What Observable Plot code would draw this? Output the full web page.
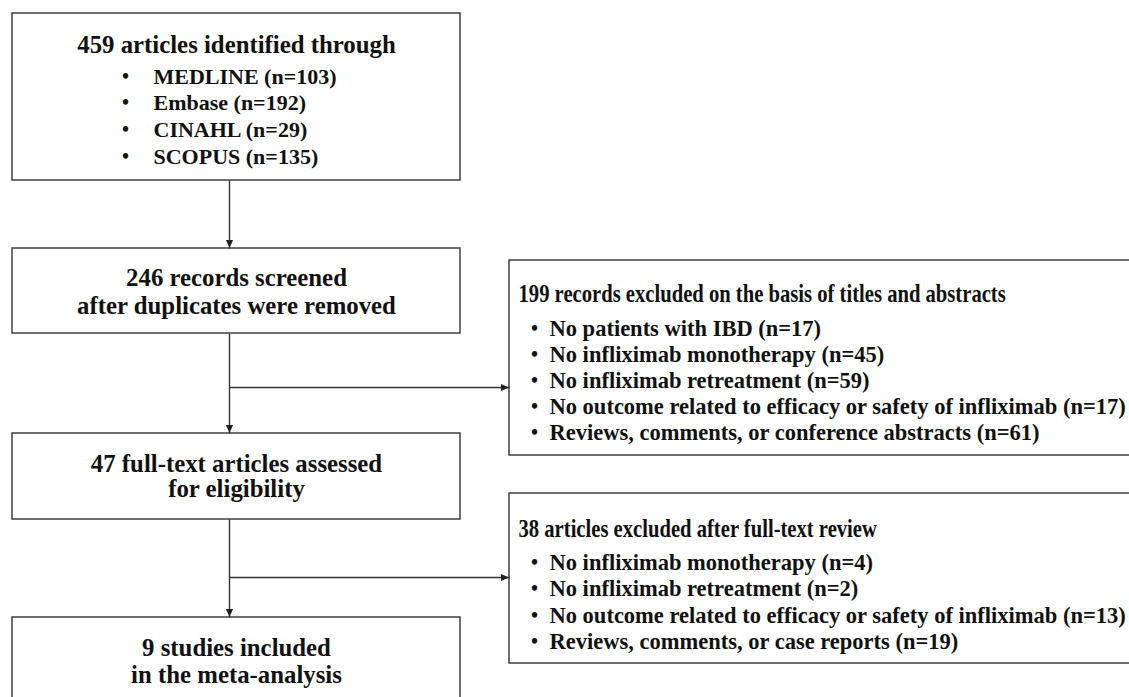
<!DOCTYPE html>
<html><head><meta charset="utf-8">
<script src="https://cdn.jsdelivr.net/npm/d3@7"></script>
<script src="https://cdn.jsdelivr.net/npm/@observablehq/plot@0.6"></script>
<style>html,body{margin:0;padding:0;overflow:hidden;background:#fff}</style>
</head><body>
<div id="chart"></div>
<script>
// ---- data ----
const stageLines = [
  ["459 articles identified through"],
  ["246 records screened", "after duplicates were removed"],
  ["47 full-text articles assessed", "for eligibility"],
  ["9 studies included", "in the meta-analysis"]
];
const sources = ["MEDLINE", "Embase", "CINAHL", "SCOPUS"];
const sourceCounts = [103, 192, 29, 135];
const exclusionTitles = [
  "199 records excluded on the basis of titles and abstracts",
  "38 articles excluded after full-text review"
];
const screenReasons = ["No patients with IBD", "No infliximab monotherapy", "No infliximab retreatment",
  "No outcome related to efficacy or safety of infliximab", "Reviews, comments, or conference abstracts"];
const screenCounts = [17, 45, 59, 17, 61];
const fullTextReasons = ["No infliximab monotherapy", "No infliximab retreatment",
  "No outcome related to efficacy or safety of infliximab", "Reviews, comments, or case reports"];
const fullTextCounts = [4, 2, 13, 19];

// ---- layout ----
const leftBox = {x1: 12, x2: 460};
const rightBox = {x1: 509, x2: 1140};
const leftTops = [13, 248, 433, 617];
const leftBottoms = [180, 333, 519, 712];
const rightTops = [260, 493];
const rightBottoms = [455, 663];
const spineX = 229;
const branchY = [387, 577];
const stageLineY = [[45], [278, 306], [464, 489], [648, 675]];
const sourceY = [76, 102, 129, 156];
const exclTitleY = [294, 529];
const exclItemY = [[328, 354, 380, 406, 432], [562, 588, 615, 641]];

const boxes = [
  ...leftTops.map((t, i) => ({x1: leftBox.x1, x2: leftBox.x2, y1: t, y2: leftBottoms[i]})),
  ...rightTops.map((t, i) => ({x1: rightBox.x1, x2: rightBox.x2, y1: t, y2: rightBottoms[i]}))
];
const links = [];
for (let i = 0; i < 3; i++) links.push({x1: spineX, y1: leftBottoms[i], x2: spineX, y2: leftTops[i + 1]});
branchY.forEach(y => links.push({x1: spineX, y1: y, x2: rightBox.x1, y2: y}));
const heads = [
  ...[1, 2, 3].map(i => ({x: spineX, y: leftTops[i] - 0.5, rot: 90})),
  ...branchY.map(y => ({x: rightBox.x1 - 0.5, y, rot: 0}))
];

const centerText = [];
stageLines.forEach((lines, i) => lines.forEach((t, j) => centerText.push({x: 236, y: stageLineY[i][j], text: t})));
const sourceText = sources.map((s, i) => ({x: 153, y: sourceY[i], text: `${s} (n=${sourceCounts[i]})`}));
const sourceBullets = sources.map((s, i) => ({x: 125, y: sourceY[i], text: "•"}));
const exclTitles = exclusionTitles.map((t, i) => ({x: 518, y: exclTitleY[i], text: t}));
const exclItems = [
  ...screenReasons.map((r, i) => ({x: 549, y: exclItemY[0][i], text: `${r} (n=${screenCounts[i]})`})),
  ...fullTextReasons.map((r, i) => ({x: 549, y: exclItemY[1][i], text: `${r} (n=${fullTextCounts[i]})`}))
];
const exclBullets = exclItems.map(d => ({x: 534, y: d.y, text: "•"}));

const FONT = "'Liberation Serif','Times New Roman',serif";
const INK = "#111";
const LINE = "#333";
const arrowHead = {draw(ctx) { ctx.moveTo(0, 0); ctx.lineTo(-8, -3.6); ctx.lineTo(-8, 3.6); ctx.closePath(); }};

const chart = Plot.plot({
  width: 1129, height: 697, margin: 0,
  x: {domain: [0, 1129], range: [0, 1129], axis: null},
  y: {domain: [0, 697], range: [0, 697], axis: null},
  style: {background: "#fff"},
  marks: [
    Plot.rect(boxes, {x1: "x1", x2: "x2", y1: "y1", y2: "y2", fill: "#fff", stroke: LINE, strokeWidth: 1.4, clip: true}),
    Plot.link(links, {x1: "x1", y1: "y1", x2: "x2", y2: "y2", stroke: LINE, strokeWidth: 1.4}),
    Plot.dot(heads, {x: "x", y: "y", rotate: "rot", symbol: arrowHead, fill: "#222", stroke: "none", r: 4}),
    Plot.text(centerText, {x: "x", y: "y", text: "text", textAnchor: "middle", fontSize: 24.8, fontWeight: "bold", fontFamily: FONT, fill: INK}),
    Plot.text(sourceBullets, {x: "x", y: "y", text: "text", textAnchor: "middle", fontSize: 20, fontWeight: "bold", fontFamily: FONT, fill: INK}),
    Plot.text(sourceText, {x: "x", y: "y", text: "text", textAnchor: "start", fontSize: 22, fontWeight: "bold", fontFamily: FONT, fill: INK}),
    Plot.text(exclTitles, {x: "x", y: "y", text: "text", textAnchor: "start", fontSize: 24.5, fontWeight: "bold", fontFamily: FONT, fill: INK}),
    Plot.text(exclBullets, {x: "x", y: "y", text: "text", textAnchor: "middle", fontSize: 20, fontWeight: "bold", fontFamily: FONT, fill: INK}),
    Plot.text(exclItems, {x: "x", y: "y", text: "text", textAnchor: "start", fontSize: 22.5, fontWeight: "bold", fontFamily: FONT, fill: INK})
  ]
});
document.getElementById("chart").append(chart);
// horizontally condense the right-hand box titles like the reference
const textGroups = chart.querySelectorAll('g[aria-label="text"]');
function condense(group, f) {
  if (!group) return;
  group.querySelectorAll("text").forEach(function (el) {
    const w = el.getComputedTextLength();
    el.setAttribute("textLength", w * f);
    el.setAttribute("lengthAdjust", "spacingAndGlyphs");
  });
}
condense(textGroups[3], 0.842);
</script></body></html>
